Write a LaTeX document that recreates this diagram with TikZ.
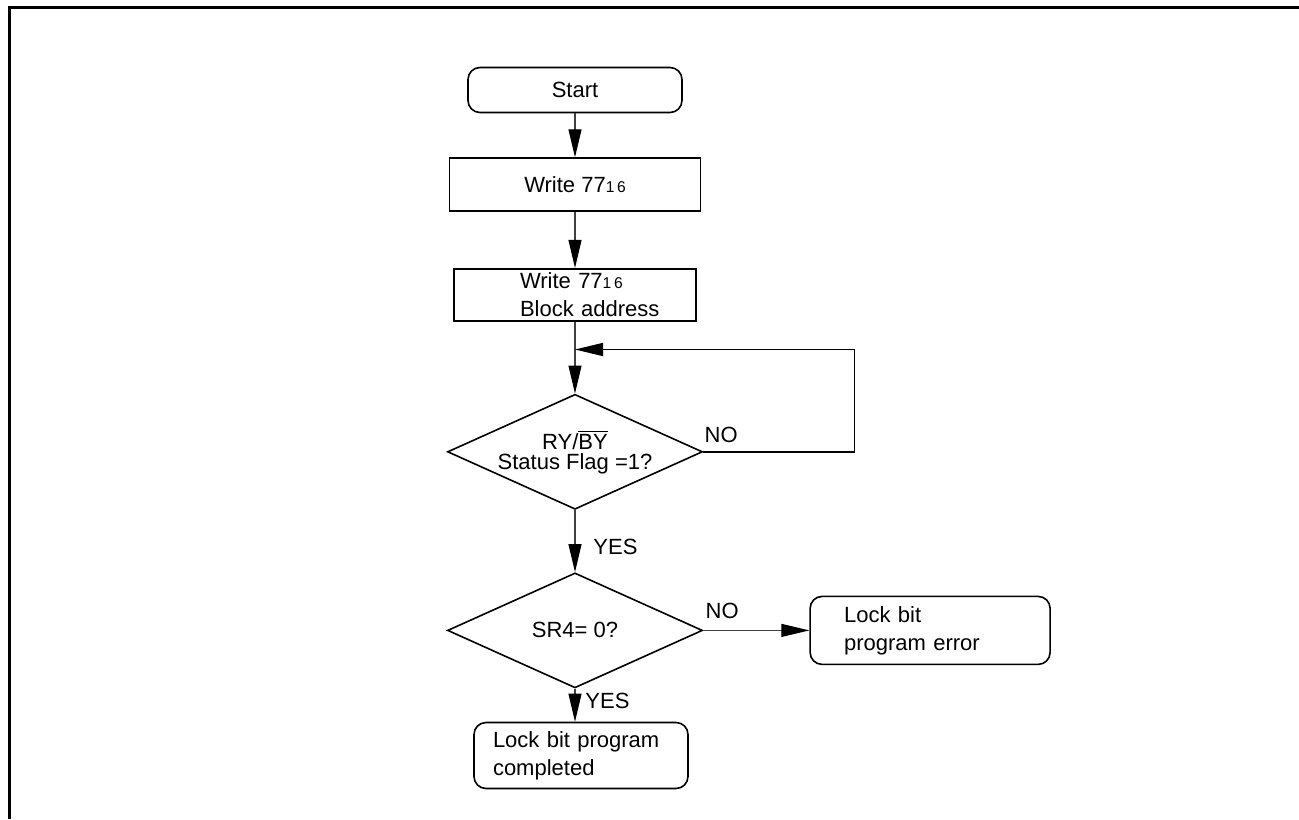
\documentclass[tikz,border=0pt]{standalone}
\usepackage{fontspec}
\setmainfont{Liberation Sans}
\usetikzlibrary{arrows.meta,positioning,shapes.geometric}
\newcommand{\hexsub}{{\fontsize{7.8}{8}\selectfont 1\,6}}

\begin{document}
\begin{tikzpicture}[node distance=22pt,
      font=\fontsize{11}{14}\selectfont,
      flow/.style={draw,line width=0.8pt,align=center,inner sep=0pt},
      term/.style={flow,rounded corners=6pt},
      proc/.style={flow},
      decide/.style={flow,diamond,aspect=2.2,minimum width=127.5pt,minimum height=57.5pt,font=\fontsize{11}{10}\selectfont},
      lbl/.style={inner sep=0pt,anchor=base west},
      link/.style={draw=black!75,line width=0.55pt,-{Triangle[length=14pt,width=6.5pt,color=black]}},
      >={Triangle[length=14pt,width=6.5pt]}]
    \useasboundingbox (0,0) rectangle (649.5pt,-409.5pt);
    \draw[line width=1.5pt] (649.5pt,-3.75pt) -- (4.75pt,-3.75pt) -- (4.75pt,-409.5pt);
    % main column
    \node[term,minimum width=107pt,minimum height=22.5pt] (start) at (287.5pt,-45pt) {Start};
    \node[proc,minimum width=125.5pt,minimum height=26.5pt,below=22pt of start] (w1) {Write 77\hexsub};
    \node[proc,align=left,text width=55pt,inner xsep=33pt,minimum height=26pt,below=28pt of w1] (w2) {Write 77\hexsub\\\mbox{Block address}};
    \node[decide,below=36pt of w2] (flag) {RY/$\overline{\mbox{BY}}$\\Status Flag =1?};
    \node[decide,below=31pt of flag] (sr4) {SR4= 0?};
    \node[term,align=left,text width=86pt,inner xsep=17pt,minimum height=34pt,right=53pt of sr4] (err) {Lock bit\\program error};
    \node[term,align=left,text width=88pt,inner xsep=9.5pt,minimum height=33pt,below=16.5pt of sr4,xshift=3pt] (done) {Lock bit program\\completed};
    \coordinate[below=14pt of w2] (back);
    \draw[link] (start) -- (w1);
    \draw[link] (w1) -- (w2);
    \draw[link] (w2) -- (flag);
    \draw[line width=0.8pt,->] (flag.east) -- ++(75.5pt,0) |- (back);
    \draw[link] (flag) -- (sr4);
    \draw[link] (sr4) -- (err);
    \draw[link] (sr4.south) -- (sr4.south |- done.north);
    % branch labels
    \node[lbl] (no1) at ([shift={(0.5pt,4.5pt)}]flag.east) {NO};
    \node[lbl] (yes1) at ([shift={(9pt,-22pt)}]flag.south) {YES};
    \node[lbl] (no2) at ([shift={(1pt,6pt)}]sr4.east) {NO};
    \node[lbl] (yes2) at ([shift={(5pt,-10pt)}]sr4.south) {YES};
  \end{tikzpicture}
\end{document}
